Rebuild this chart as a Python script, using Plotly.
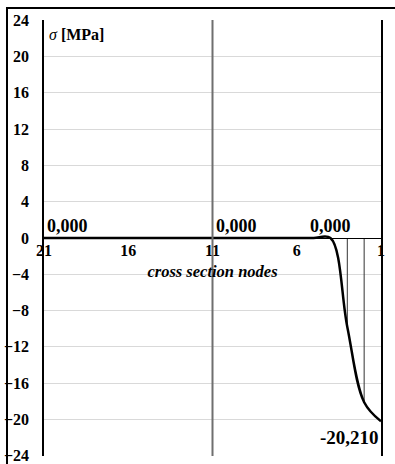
import plotly.graph_objects as go

# Stress along the cross section, node 21 (left) to node 1 (right)
nodes = list(range(21, 0, -1))
sigma = [0.0] * 18 + [-9.8, -18.1, -20.21]

# Nodes whose values are printed on the chart
labelled_nodes = [21, 11, 4, 1]
# Nodes with a drop line from the axis to the curve
drop_nodes = [3, 2]
# Full-height divider
divider_nodes = [11]

x_ticks = [21, 16, 11, 6, 1]
y_ticks = list(range(-24, 25, 4))

SERIF = "Liberation Serif"
value_of = dict(zip(nodes, sigma))


def fmt(v):
    return f"{v:.3f}".replace(".", ",")


fig = go.Figure()

# drop lines
dx, dy = [], []
for n in drop_nodes:
    dx += [n, n, None]
    dy += [0, value_of[n], None]
fig.add_trace(go.Scatter(x=dx, y=dy, mode="lines",
                         line=dict(color="#333333", width=1),
                         hoverinfo="skip", showlegend=False))

# stress curve
fig.add_trace(go.Scatter(x=nodes, y=sigma, mode="lines",
                         line=dict(color="black", width=2.5,
                                   shape="spline", smoothing=1),
                         showlegend=False))

for n in divider_nodes:
    fig.add_shape(type="line", xref="x", yref="paper", x0=n, x1=n, y0=0, y1=1,
                  line=dict(color="#6f6f6f", width=2), layer="above")

# outer frame (top and left edges of the chart border)
fig.add_shape(type="path", xref="paper", yref="paper",
              path="M -0.1098,-0.05 L -0.1098,1.0276 L 1.05,1.0276",
              line=dict(color="black", width=2), layer="above")

label_font = dict(family=SERIF, size=18, color="black", weight="bold")
for n in labelled_nodes:
    v = value_of[n]
    if n == 1:
        fig.add_annotation(x=n, y=v, text=fmt(v), showarrow=False,
                           xanchor="right", yanchor="top", yshift=-4,
                           font=dict(label_font, size=19))
    elif n == 4:
        fig.add_annotation(x=n, y=v, text=fmt(v), showarrow=False,
                           xanchor="center", yanchor="bottom", yshift=0,
                           font=label_font)
    else:
        fig.add_annotation(x=n, y=v, text=fmt(v), showarrow=False,
                           xanchor="left", yanchor="bottom", xshift=1, yshift=0,
                           font=label_font)

fig.add_annotation(xref="paper", yref="paper", x=0.01, y=0.99,
                   text="<i>σ</i> <b>[MPa]</b>", showarrow=False,
                   xanchor="left", yanchor="top",
                   font=dict(family=SERIF, size=16, color="black"))

fig.update_layout(
    width=395, height=464,
    margin=dict(l=44, r=14, t=20, b=8, autoexpand=False),
    paper_bgcolor="white", plot_bgcolor="white",
    xaxis=dict(range=[21, 1], tickvals=x_ticks, ticktext=[str(t) for t in x_ticks],
               anchor="free", position=0.5, automargin=False,
               showgrid=False, zeroline=False,
               showline=True, linecolor="black", linewidth=1,
               ticks="", ticklabelstandoff=-2,
               tickfont=dict(family=SERIF, size=16, color="black", weight="bold"),
               title=dict(text="<b><i>cross section nodes</i></b>", standoff=7,
                          font=dict(family=SERIF, size=16.5, color="black"))),
    yaxis=dict(range=[-24.03, 24.03], tickvals=y_ticks, automargin=False,
               showgrid=True, gridcolor="#d9d9d9", gridwidth=1,
               zeroline=False,
               showline=True, linecolor="black", linewidth=1.5, mirror=True,
               ticks="", ticklabelstandoff=10, ticklabeloverflow="allow",
               tickfont=dict(family=SERIF, size=16, color="black", weight="bold")),
)

fig.write_html("out.html")
